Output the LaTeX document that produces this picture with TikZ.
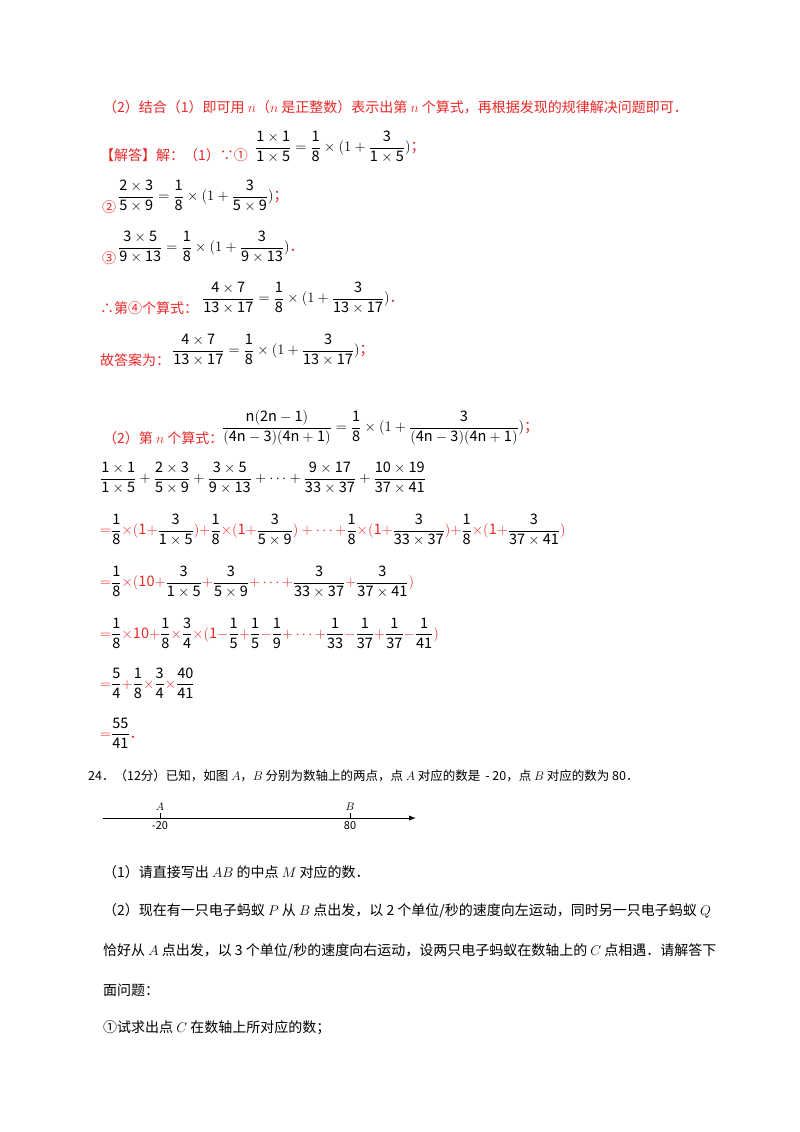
\documentclass[tikz,border=0pt]{standalone}
\usepackage{amsmath}
\usepackage{fix-cm}
\usepackage{fontspec}
\setmainfont{Noto Sans CJK SC}
\usetikzlibrary{arrows.meta,positioning}
\definecolor{ansred}{RGB}{235,40,40}
\newcommand\Fr[2]{\dfrac{\mathrm{#1}}{\mathrm{#2}}}
\newcommand\R[1]{\textcolor{ansred}{#1}}
\newcommand\RM[1]{\textcolor{ansred}{\mathrm{#1}}}
\begin{document}
\begin{tikzpicture}[x=1pt,y=-1pt,
  every node/.style={inner sep=0pt,font=\fontsize{14}{16}\selectfont},
  ln/.style={anchor=base west},
  eq/.style={anchor=west,font=\fontsize{14.5}{17}\selectfont}]
\useasboundingbox (0,0) rectangle (800,1132);
\fill[white] (0,0) rectangle (800,1132);
\node[ln,ansred] (l1) at (103,112) {（2）结合（1）即可用 $n$（$n$ 是正整数）表示出第 $n$ 个算式，再根据发现的规律解决问题即可．};
\node[ln,ansred] (l2a) at (100,160) {【解答】解：（1）∵①};
\node[eq] (l2b) at (255,147) {$\Fr{1\times1}{1\times5}=\Fr{1}{8}\times(1+\Fr{3}{1\times5})$\R{；}};
\node[ln,ansred] (l3a) at (102,212) {②};
\node[eq] (l3b) at (118,196) {$\Fr{2\times3}{5\times9}=\Fr{1}{8}\times(1+\Fr{3}{5\times9})$\R{；}};
\node[ln,ansred] (l4a) at (102,263) {③};
\node[eq] (l4b) at (118,247) {$\Fr{3\times5}{9\times13}=\Fr{1}{8}\times(1+\Fr{3}{9\times13})$\R{．}};
\node[ln,ansred] (l5a) at (100,313) {∴第④个算式：};
\node[eq] (l5b) at (202,298) {$\Fr{4\times7}{13\times17}=\Fr{1}{8}\times(1+\Fr{3}{13\times17})$\R{．}};
\node[ln,ansred] (l6a) at (100,365) {故答案为：};
\node[eq] (l6b) at (172,350) {$\Fr{4\times7}{13\times17}=\Fr{1}{8}\times(1+\Fr{3}{13\times17})$\R{；}};
\node[ln,ansred] (l7a) at (103,443) {（2）第 $n$ 个算式：};
\node[eq] (l7b) at (222,428) {$\Fr{n(2n-1)}{(4n-3)(4n+1)}=\Fr{1}{8}\times(1+\Fr{3}{(4n-3)(4n+1)})$\R{；}};
\node[eq] (l8) at (100,478) {$\Fr{1\times1}{1\times5}+\Fr{2\times3}{5\times9}+\Fr{3\times5}{9\times13}+\cdots+\Fr{9\times17}{33\times37}+\Fr{10\times19}{37\times41}$};
\node[eq] (l9) at (100,530) {$\RM{=}\Fr{1}{8}\RM{\times(1+}\Fr{3}{1\times5}\RM{)+}\Fr{1}{8}\RM{\times(1+}\Fr{3}{5\times9}\RM{)+\cdots+}\Fr{1}{8}\RM{\times(1+}\Fr{3}{33\times37}\RM{)+}\Fr{1}{8}\RM{\times(1+}\Fr{3}{37\times41}\RM{)}$};
\node[eq] (l10) at (100,582) {$\RM{=}\Fr{1}{8}\RM{\times(10+}\Fr{3}{1\times5}\RM{+}\Fr{3}{5\times9}\RM{+\cdots+}\Fr{3}{33\times37}\RM{+}\Fr{3}{37\times41}\RM{)}$};
\node[eq] (l11) at (100,633) {$\RM{=}\Fr{1}{8}\RM{\times10+}\Fr{1}{8}\RM{\times}\Fr{3}{4}\RM{\times(1-}\Fr{1}{5}\RM{+}\Fr{1}{5}\RM{-}\Fr{1}{9}\RM{+\cdots+}\Fr{1}{33}\RM{-}\Fr{1}{37}\RM{+}\Fr{1}{37}\RM{-}\Fr{1}{41}\RM{)}$};
\node[eq] (l12) at (100,683) {$\RM{=}\Fr{5}{4}\RM{+}\Fr{1}{8}\RM{\times}\Fr{3}{4}\RM{\times}\Fr{40}{41}$};
\node[eq] (l13) at (100,733) {$\RM{=}\Fr{55}{41}$\R{．}};
\node[ln,font=\fontsize{12.5}{15}\selectfont] (q24) at (88,780) {24．（12分）已知，如图 $A$，$B$ 分别为数轴上的两点，点 $A$ 对应的数是 \,- 20，点 $B$ 对应的数为 80．};
\coordinate (s) at (103,818);
\coordinate (e) at (416,818);
\draw[line width=1pt,-{Latex[length=7pt]}] (s) -- (e);
\coordinate (ta) at (160,818);
\coordinate (tb) at (350,818);
\draw (ta) -- ++(0,-5) node[above=2pt,font=\fontsize{11}{12}\selectfont] (la) {$A$};
\draw (tb) -- ++(0,-5) node[above=2pt,font=\fontsize{11}{12}\selectfont] (lb) {$B$};
\node[below=3pt of ta,font=\fontsize{11}{12}\selectfont] (na) {-20};
\node[below=3pt of tb,font=\fontsize{11}{12}\selectfont] (nb) {80};
\node[ln] (p1) at (103,877) {（1）请直接写出 $AB$ 的中点 $M$ 对应的数．};
\node[ln] (p2) at (103,915) {（2）现在有一只电子蚂蚁 $P$ 从 $B$ 点出发，以 2 个单位/秒的速度向左运动，同时另一只电子蚂蚁 $Q$};
\node[ln] (p3) at (103,955) {恰好从 $A$ 点出发，以 3 个单位/秒的速度向右运动，设两只电子蚂蚁在数轴上的 $C$ 点相遇．请解答下};
\node[ln] (p4) at (103,995) {面问题：};
\node[ln] (p5) at (103,1032) {①试求出点 $C$ 在数轴上所对应的数；};
\end{tikzpicture}
\end{document}
